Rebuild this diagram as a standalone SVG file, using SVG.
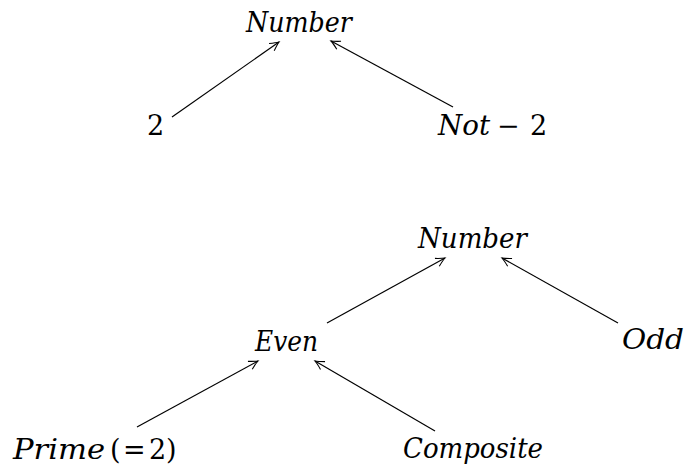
<svg xmlns="http://www.w3.org/2000/svg" width="686" height="470" viewBox="0 0 686 470">
<defs>
<marker id="ah" viewBox="-10 -6 12 12" refX="0" refY="0" markerWidth="12" markerHeight="12" markerUnits="userSpaceOnUse" orient="auto">
<path d="M-9,-4.5 Q-3,-1 0,0 Q-3,1 -9,4.5" fill="none" stroke="#000" stroke-width="1.1"/>
</marker>
</defs>
<rect width="686" height="470" fill="#fff"/>
<g id="connectors" stroke="#000" stroke-width="1.2" fill="none" marker-end="url(#ah)">
<line x1="172" y1="117" x2="279" y2="42"/>
<line x1="453" y1="107" x2="331" y2="41"/>
<line x1="327" y1="323" x2="445" y2="258"/>
<line x1="618" y1="323" x2="502" y2="258"/>
<line x1="137" y1="427" x2="258" y2="361"/>
<line x1="435" y1="431" x2="315" y2="361"/>
</g>
<g font-family="DejaVu Serif, serif" font-size="27" fill="#000">
<g id="n_number1"><text font-style="italic" x="246" y="32" textLength="106" lengthAdjust="spacingAndGlyphs">Number</text></g>
<g id="n_two"><text x="147" y="135">2</text></g>
<g id="n_not2"><text x="438" y="135"><tspan font-style="italic" textLength="52" lengthAdjust="spacingAndGlyphs">Not</tspan><tspan x="497">−</tspan><tspan x="530">2</tspan></text></g>
<g id="n_number2"><text font-style="italic" x="418" y="248" textLength="109" lengthAdjust="spacingAndGlyphs">Number</text></g>
<g id="n_even"><text font-style="italic" x="255" y="351" textLength="63" lengthAdjust="spacingAndGlyphs">Even</text></g>
<g id="n_odd"><text font-style="italic" x="622" y="349" textLength="62" lengthAdjust="spacingAndGlyphs">Odd</text></g>
<g id="n_prime"><text x="13" y="459"><tspan font-style="italic" textLength="92" lengthAdjust="spacingAndGlyphs">Prime</tspan><tspan x="110">(</tspan><tspan x="123">=</tspan><tspan x="149">2</tspan><tspan x="166">)</tspan></text></g>
<g id="n_composite"><text font-style="italic" x="403" y="458" textLength="140" lengthAdjust="spacingAndGlyphs">Composite</text></g>
</g>
</svg>
